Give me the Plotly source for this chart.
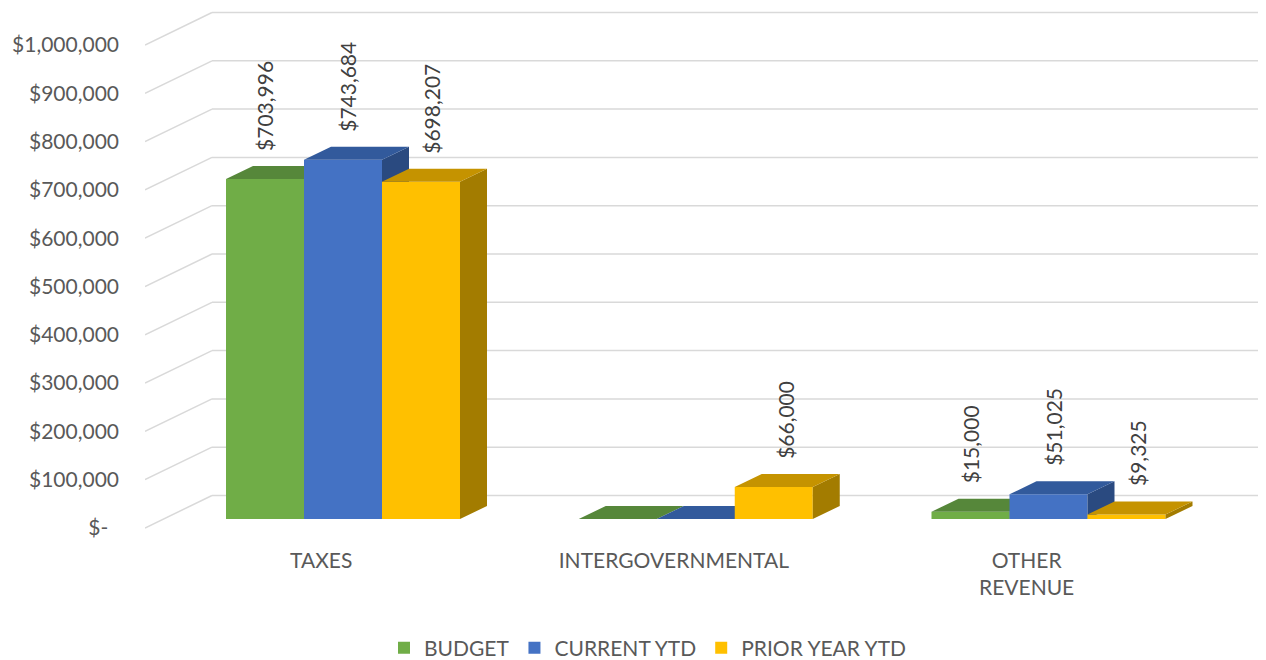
import plotly.graph_objects as go

# ---------------- data ----------------
categories = ["TAXES", "INTERGOVERNMENTAL", "OTHER<br>REVENUE"]
series_names = ["BUDGET", "CURRENT YTD", "PRIOR YEAR YTD"]
budget = [703996, 0, 15000]
current_ytd = [743684, 0, 51025]
prior_year_ytd = [698207, 66000, 9325]
y_tick_values = [0, 100000, 200000, 300000, 400000, 500000,
                 600000, 700000, 800000, 900000, 1000000]
y_tick_labels = ["$-\u00a0\u00a0", "$100,000", "$200,000", "$300,000", "$400,000",
                 "$500,000", "$600,000", "$700,000", "$800,000", "$900,000",
                 "$1,000,000"]

# ---------------- style / projection ----------------
front_colors = ["#70AD47", "#4472C4", "#FFC000"]
top_colors = ["#56873A", "#325A9C", "#C59300"]
side_colors = ["#4A7431", "#2A4A80", "#A37C00"]
TEXT = "#595959"
LABEL = "#404040"
FONT = "Lato"
FS = 21

W, H = 1266, 660
OFF = 8                                    # page body margin in the browser
ML, MR, MT, PB = 145 - OFF, 0, 0, 540 - OFF   # plot area in figure pixels
X0_PX, X_SCALE = 343.0 - OFF, 352.75       # category index -> pixel
Y0_PX, Y_SCALE = 528.0 - OFF, 0.000483     # value -> pixel (front plane)

x_range = [(ML - X0_PX) / X_SCALE, (W - MR - X0_PX) / X_SCALE]
y_range = [(Y0_PX - PB) / Y_SCALE, (Y0_PX - MT) / Y_SCALE]

def dx(px):
    return px / X_SCALE

def dy(px):
    return px / Y_SCALE

bar_w = dx(78)
bar_base = dy(9)
depth_x, depth_y = dx(27), dy(13)
wall_x, wall_y = dx(67), dy(32.5)
label_offset = -0.062
label_xshift = [0, 5, 11]
label_yshift = 26

fig = go.Figure()

series_values = [budget, current_ytd, prior_year_ytd]
for k, (name, vals) in enumerate(zip(series_names, series_values)):
    suffix = "" if k == 0 else str(k + 1)
    xa, ya = "x" + suffix, "y" + suffix
    xs = [i + (k - 1) * bar_w for i in range(len(categories))]
    fig.add_trace(go.Bar(
        x=xs, y=vals, base=bar_base, width=bar_w, name=name,
        marker=dict(color=front_colors[k], line=dict(width=0)),
        xaxis=xa, yaxis=ya, hoverinfo="skip", legendrank=k + 1,
    ))
    top_x, top_y, side_x, side_y = [], [], [], []
    for xc, v in zip(xs, vals):
        xl, xr = xc - bar_w / 2, xc + bar_w / 2
        t = bar_base + v
        top_x += [xl, xr, xr + depth_x, xl + depth_x, xl, None]
        top_y += [t, t, t + depth_y, t + depth_y, t, None]
        side_x += [xr, xr, xr + depth_x, xr + depth_x, xr, None]
        side_y += [bar_base, t, t + depth_y, bar_base + depth_y, bar_base, None]
    fig.add_trace(go.Scatter(
        x=side_x, y=side_y, mode="lines", fill="toself",
        fillcolor=side_colors[k], line=dict(width=0),
        xaxis=xa, yaxis=ya, showlegend=False, hoverinfo="skip"))
    fig.add_trace(go.Scatter(
        x=top_x, y=top_y, mode="lines", fill="toself",
        fillcolor=top_colors[k], line=dict(width=0),
        xaxis=xa, yaxis=ya, showlegend=False, hoverinfo="skip"))
    for xc, v in zip(xs, vals):
        if v == 0:
            continue
        fig.add_annotation(
            x=xc, y=bar_base + v, xref="x", yref="y",
            text=f"${v:,.0f}", textangle=-90, showarrow=False,
            xanchor="center", yanchor="bottom",
            yshift=label_yshift, xshift=label_xshift[k],
            font=dict(family=FONT, size=FS, color=LABEL))

# back-wall gridlines
for v in y_tick_values:
    fig.add_shape(type="line", xref="x", yref="y", layer="below",
                  x0=x_range[0], y0=v, x1=x_range[0] + wall_x, y1=v + wall_y,
                  line=dict(color="#D9D9D9", width=1.5))
    fig.add_shape(type="line", xref="x", yref="y", layer="below",
                  x0=x_range[0] + wall_x, y0=v + wall_y, x1=x_range[1], y1=v + wall_y,
                  line=dict(color="#D9D9D9", width=1.5))

hidden = dict(range=x_range, visible=False, fixedrange=True, automargin=False)
hidden_y = dict(range=y_range, visible=False, fixedrange=True, automargin=False)

fig.update_layout(
    width=W, height=H,
    margin=dict(l=ML, r=MR, t=MT, b=H - PB, pad=0, autoexpand=False),
    paper_bgcolor="white", plot_bgcolor="white",
    font=dict(family=FONT, size=FS, color=TEXT),
    barmode="overlay",
    xaxis=dict(range=x_range, showgrid=False, zeroline=False, showline=False,
               tickvals=[i + label_offset for i in range(len(categories))],
               ticktext=categories, ticks="", fixedrange=True, automargin=False,
               ticklabelstandoff=6,
               tickfont=dict(family=FONT, size=FS, color=TEXT)),
    yaxis=dict(range=y_range, showgrid=False, zeroline=False, showline=False,
               tickvals=y_tick_values, ticktext=y_tick_labels, ticks="",
               ticklabelstandoff=25, fixedrange=True, automargin=False,
               tickfont=dict(family=FONT, size=FS, color=TEXT)),
    xaxis2=dict(overlaying="x", anchor="y2", **hidden),
    yaxis2=dict(overlaying="y", anchor="x2", **hidden_y),
    xaxis3=dict(overlaying="x", anchor="y3", **hidden),
    yaxis3=dict(overlaying="y", anchor="x3", **hidden_y),
    legend=dict(orientation="h", x=(648 - OFF - ML) / (W - ML - MR), xanchor="center",
                y=-(648 - OFF - PB) / PB, yanchor="middle",
                font=dict(family=FONT, size=FS, color=TEXT),
                traceorder="normal"),
    showlegend=True,
)

fig.write_html("out.html")
